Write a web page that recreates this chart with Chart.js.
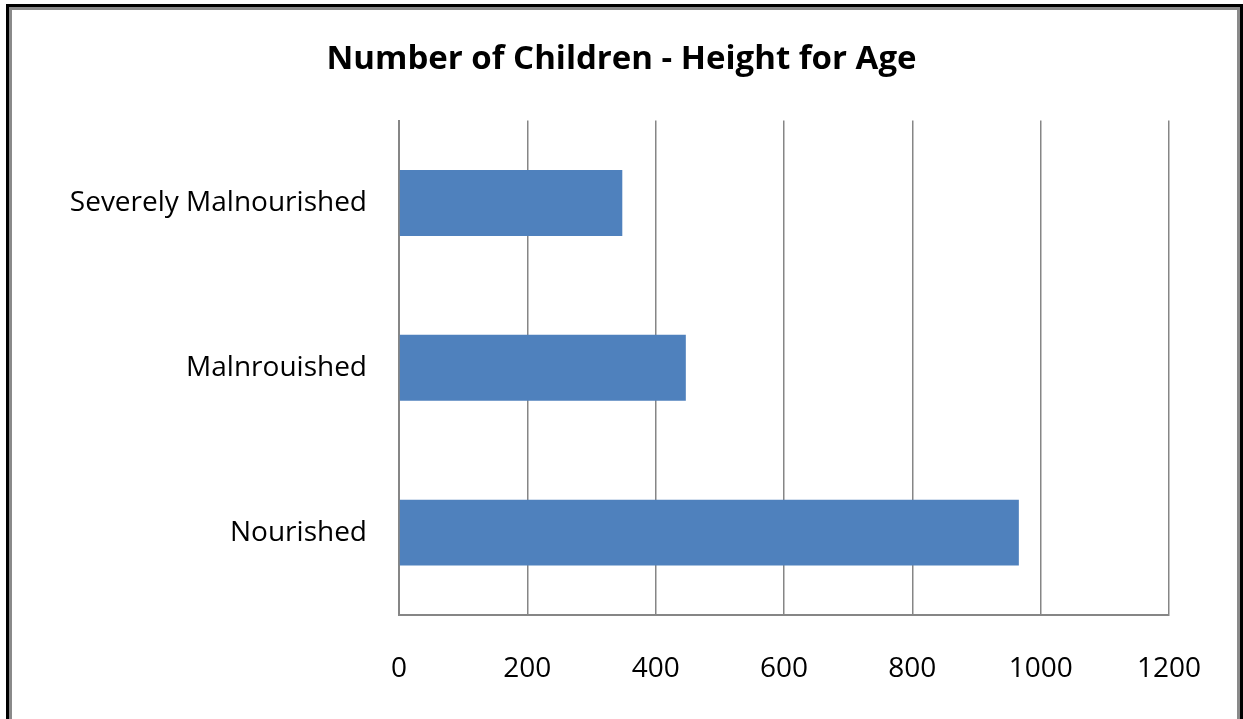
<!DOCTYPE html>
<html>
<head>
<meta charset="utf-8">
<script src="https://cdn.jsdelivr.net/npm/chart.js@4/dist/chart.umd.min.js"></script>
<style>
html,body{margin:0;padding:0;background:#fff;}
#wrap{width:1243px;height:719px;position:relative;}
</style>
</head>
<body>
<div id="wrap"><canvas id="c" width="1243" height="719"></canvas></div>
<script>
const categories = ["Severely Malnourished", "Malnrouished", "Nourished"];
const values = [348, 447, 966];
const xMin = 0, xMax = 1200, xStep = 200;
const chartTitle = "Number of Children - Height for Age";

const frame = {
  id: 'frame',
  beforeDraw(chart) {
    const ctx = chart.ctx;
    const W = chart.width, H = chart.height;
    ctx.save();
    ctx.fillStyle = '#fff';
    ctx.fillRect(0, 0, W, H);
    ctx.fillStyle = '#000';
    ctx.fillRect(6, 4, 3, H);         // left black
    ctx.fillRect(6, 4, W - 6, 3);     // top black
    ctx.fillRect(1240, 4, 3, H);      // right black
    ctx.fillStyle = '#8a8a8a';
    ctx.fillRect(9, 7, 3, H);         // left grey
    ctx.fillRect(9, 7, 1231 - 0, 3);  // top grey
    ctx.fillRect(1237, 7, 3, H);      // right grey
    ctx.restore();
  }
};

new Chart(document.getElementById('c'), {
  type: 'bar',
  data: {
    labels: categories,
    datasets: [{
      data: values,
      backgroundColor: '#4F81BD',
      borderWidth: 0,
      barPercentage: 0.4,
      categoryPercentage: 1.0
    }]
  },
  options: {
    indexAxis: 'y',
    responsive: false,
    animation: false,
    layout: { padding: { left: 0, right: 0, top: 0, bottom: 0 } },
    plugins: {
      legend: { display: false },
      tooltip: { enabled: false },
      title: {
        display: true,
        text: chartTitle,
        color: '#000',
        font: { family: 'Open Sans', size: 33, weight: 'bold' },
        padding: { top: 40, bottom: 41 }
      }
    },
    scales: {
      x: {
        min: xMin, max: xMax,
        ticks: { stepSize: xStep, color: '#000', padding: 37,
                 font: { family: 'Open Sans', size: 28 },
                 callback: (v) => String(v) },
        grid: { color: '#868686', lineWidth: 1.5, drawTicks: false },
        border: { color: '#868686', width: 2 },
        afterFit(s) { s.height = 104; s.paddingRight = 74; }
      },
      y: {
        ticks: { color: '#000', padding: 32,
                 font: { family: 'Open Sans', size: 28 } },
        grid: { display: false, drawTicks: false },
        border: { color: '#868686', width: 2 },
        afterFit(s) { s.width = 399; }
      }
    }
  },
  plugins: [frame]
});
</script>
</body>
</html>
